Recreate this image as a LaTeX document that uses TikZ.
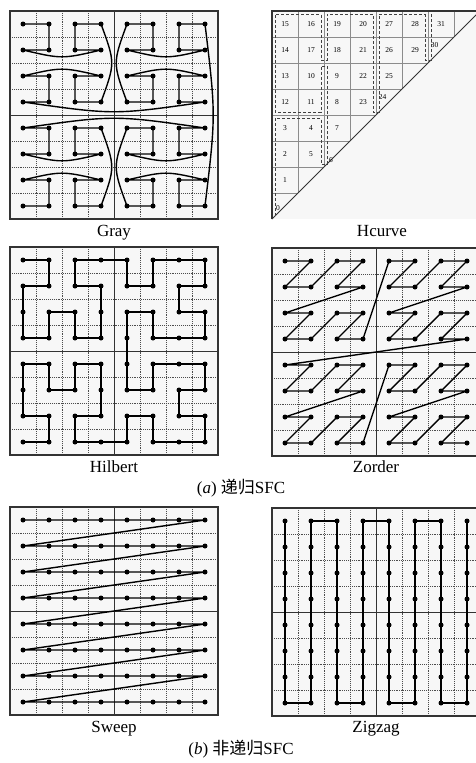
\documentclass[tikz,border=0pt]{standalone}
\usepackage{fontspec}
\setmainfont{Liberation Serif}
\newfontfamily\cjk{Noto Sans CJK SC}
\tikzset{
 panelbg/.style={fill=black!3},
 panelframe/.style={draw=black!80, line width=1.1pt},
 gridline/.style={draw=black!70, line width=0.7pt, dash pattern=on 0.8pt off 1.1pt},
 midline/.style={draw=black!80, line width=0.9pt},
 sfc/.style={draw=black, line width=1.4pt, line join=round},
 hgrid/.style={draw=black!45, line width=0.9pt},
 hdash/.style={draw=black!75, line width=0.75pt, dash pattern=on 3pt off 2pt},
 lbl/.style={font=\fontsize{17}{20}\selectfont, anchor=base, inner sep=0pt},
 numlbl/.style={font=\fontsize{7.5}{8}\selectfont, inner sep=0pt},
}
\newcommand\drawpanel{%
 \fill[panelbg] (0,0) rectangle (8,8);
 \foreach \k in {1,2,3,5,6,7} { \draw[gridline] (\k,0) -- (\k,8); \draw[gridline] (0,\k) -- (8,\k); }
 \draw[midline] (4,0) -- (4,8) (0,4) -- (8,4);
 \draw[panelframe] (0,0) rectangle (8,8);
}
\newcommand\drawdots{\foreach \i in {0,...,7} {\foreach \j in {0,...,7} {\fill (\i+0.5,\j+0.5) circle[radius=2.5pt];}}}
\begin{document}
\begin{tikzpicture}[x=1pt,y=-1pt]
\useasboundingbox (0,0) rectangle (475,763);
\fill[white] (0,0) rectangle (475,763);

% ---------------- Gray ----------------
\begin{scope}[shift={(10,11)}, x=26pt, y=-26pt]
\drawpanel
\draw[sfc] (0.5,0.5)--(1.5,0.5)--(1.5,1.5)--(0.5,1.5) .. controls (2,1.85) .. (3.5,1.5)--(2.5,1.5)--(2.5,0.5)--(3.5,0.5)
 .. controls (4.05,2) .. (3.5,3.5)--(2.5,3.5)--(2.5,2.5)--(3.5,2.5) .. controls (2,2.15) .. (0.5,2.5)--(1.5,2.5)--(1.5,3.5)--(0.5,3.5)
 .. controls (4,4.0) .. (7.5,3.5)--(6.5,3.5)--(6.5,2.5)--(7.5,2.5) .. controls (6,2.15) .. (4.5,2.5)--(5.5,2.5)--(5.5,3.5)--(4.5,3.5)
 .. controls (3.95,2) .. (4.5,0.5)--(5.5,0.5)--(5.5,1.5)--(4.5,1.5) .. controls (6,1.85) .. (7.5,1.5)--(6.5,1.5)--(6.5,0.5)--(7.5,0.5)
 .. controls (7.92,4) .. (7.5,7.5)--(6.5,7.5)--(6.5,6.5)--(7.5,6.5) .. controls (6,6.15) .. (4.5,6.5)--(5.5,6.5)--(5.5,7.5)--(4.5,7.5)
 .. controls (3.95,6) .. (4.5,4.5)--(5.5,4.5)--(5.5,5.5)--(4.5,5.5) .. controls (6,5.85) .. (7.5,5.5)--(6.5,5.5)--(6.5,4.5)--(7.5,4.5)
 .. controls (4,4.0) .. (0.5,4.5)--(1.5,4.5)--(1.5,5.5)--(0.5,5.5) .. controls (2,5.85) .. (3.5,5.5)--(2.5,5.5)--(2.5,4.5)--(3.5,4.5)
 .. controls (4.05,6) .. (3.5,7.5)--(2.5,7.5)--(2.5,6.5)--(3.5,6.5) .. controls (2,6.15) .. (0.5,6.5)--(1.5,6.5)--(1.5,7.5)--(0.5,7.5);
\drawdots
\end{scope}
\node[lbl] (lgray) at (114,236) {Gray};

% ---------------- Hcurve ----------------
\begin{scope}[shift={(272,11)}, x=26pt, y=-26pt]
\fill[panelbg] (0,0) rectangle (8,8);
\foreach \k in {1,...,7} { \draw[hgrid] (0,\k) -- ({8-\k},\k); \draw[hgrid] (\k,0) -- (\k,{8-\k}); }
\draw[panelframe] (0,8) -- (0,0) -- (8,0);
\draw[black!80, line width=0.9pt] (0,8) -- (8,0);
\foreach \i/\j/\n in {0/7/15,1/7/16,2/7/19,3/7/20,4/7/27,5/7/28,6/7/31,
  0/6/14,1/6/17,2/6/18,3/6/21,4/6/26,5/6/29,
  0/5/13,1/5/10,2/5/9,3/5/22,4/5/25,
  0/4/12,1/4/11,2/4/8,3/4/23,
  0/3/3,1/3/4,2/3/7,
  0/2/2,1/2/5,
  0/1/1}
  {\node[numlbl] (h\n) at (\i+0.5,7.5-\j) {\n};}
\node[numlbl] (h0) at (0.23,7.58) {0};
\node[numlbl] (h6) at (2.27,5.72) {6};
\node[numlbl] (h24) at (4.25,3.3) {24};
\node[numlbl] (h30) at (6.25,1.3) {30};
\draw[hdash] (0.12,7.88)--(0.12,4.12)--(1.88,4.12)--(1.88,5.88)--(2.12,5.88)--(2.12,2.12)--(1.88,2.12)--(1.88,3.88)
 --(0.12,3.88)--(0.12,0.12)--(1.88,0.12)--(1.88,1.88)--(2.12,1.88)--(2.12,0.12)--(3.88,0.12)--(3.88,3.88)
 --(4.12,3.88)--(4.12,0.12)--(5.88,0.12)--(5.88,1.88)--(6.12,1.88)--(6.12,0.12);
\end{scope}
\node[lbl] (lhc) at (382,236) {Hcurve};

% ---------------- Hilbert ----------------
\begin{scope}[shift={(10,247)}, x=26pt, y=-26pt]
\drawpanel
\draw[sfc] (0.5,0.5) \foreach \c/\r in {1/0,1/1,0/1,0/2,0/3,1/3,1/2,2/2,2/3,3/3,3/2,3/1,2/1,2/0,3/0,
 4/0,4/1,5/1,5/0,6/0,7/0,7/1,6/1,6/2,7/2,7/3,6/3,5/3,5/2,4/2,4/3,
 4/4,4/5,5/5,5/4,6/4,7/4,7/5,6/5,6/6,7/6,7/7,6/7,5/7,5/6,4/6,4/7,
 3/7,2/7,2/6,3/6,3/5,3/4,2/4,2/5,1/5,1/4,0/4,0/5,0/6,1/6,1/7,0/7} {-- (\c+0.5,\r+0.5)};
\drawdots
\end{scope}
\node[lbl] (lhil) at (114,472) {Hilbert};

% ---------------- Zorder ----------------
\begin{scope}[shift={(272,248)}, x=26pt, y=-26pt]
\drawpanel
\foreach \k in {0,...,63} {
  \pgfmathtruncatemacro\cx{mod(\k,2)+2*mod(floor(\k/4),2)+4*mod(floor(\k/16),2)}
  \pgfmathtruncatemacro\cy{mod(floor(\k/2),2)+2*mod(floor(\k/8),2)+4*mod(floor(\k/32),2)}
  \coordinate (z\k) at (\cx+0.5,\cy+0.5);
}
\draw[sfc] (z0) \foreach \k in {1,...,63} {-- (z\k)};
\drawdots
\end{scope}
\node[lbl] (lzo) at (376,472) {Zorder};

\node[lbl] (capa) at (241,493) {(\textit{a}) {\cjk 递归}SFC};

% ---------------- Sweep ----------------
\begin{scope}[shift={(10,507)}, x=26pt, y=-26pt]
\drawpanel
\draw[sfc] (0.5,0.5) \foreach \r in {0,...,6} {-- (7.5,\r+0.5) -- (0.5,\r+1.5)} -- (7.5,7.5);
\drawdots
\end{scope}
\node[lbl] (lsw) at (114,732) {Sweep};

% ---------------- Zigzag ----------------
\begin{scope}[shift={(272,508)}, x=26pt, y=-26pt]
\drawpanel
\draw[sfc] (0.5,0.5)--(0.5,7.5)--(1.5,7.5)--(1.5,0.5)--(2.5,0.5)--(2.5,7.5)--(3.5,7.5)--(3.5,0.5)--(4.5,0.5)
 --(4.5,7.5)--(5.5,7.5)--(5.5,0.5)--(6.5,0.5)--(6.5,7.5)--(7.5,7.5)--(7.5,0.5);
\drawdots
\end{scope}
\node[lbl] (lzz) at (376,732) {Zigzag};

\node[lbl] (capb) at (241,754) {(\textit{b}) {\cjk 非递归}SFC};
\end{tikzpicture}
\end{document}
